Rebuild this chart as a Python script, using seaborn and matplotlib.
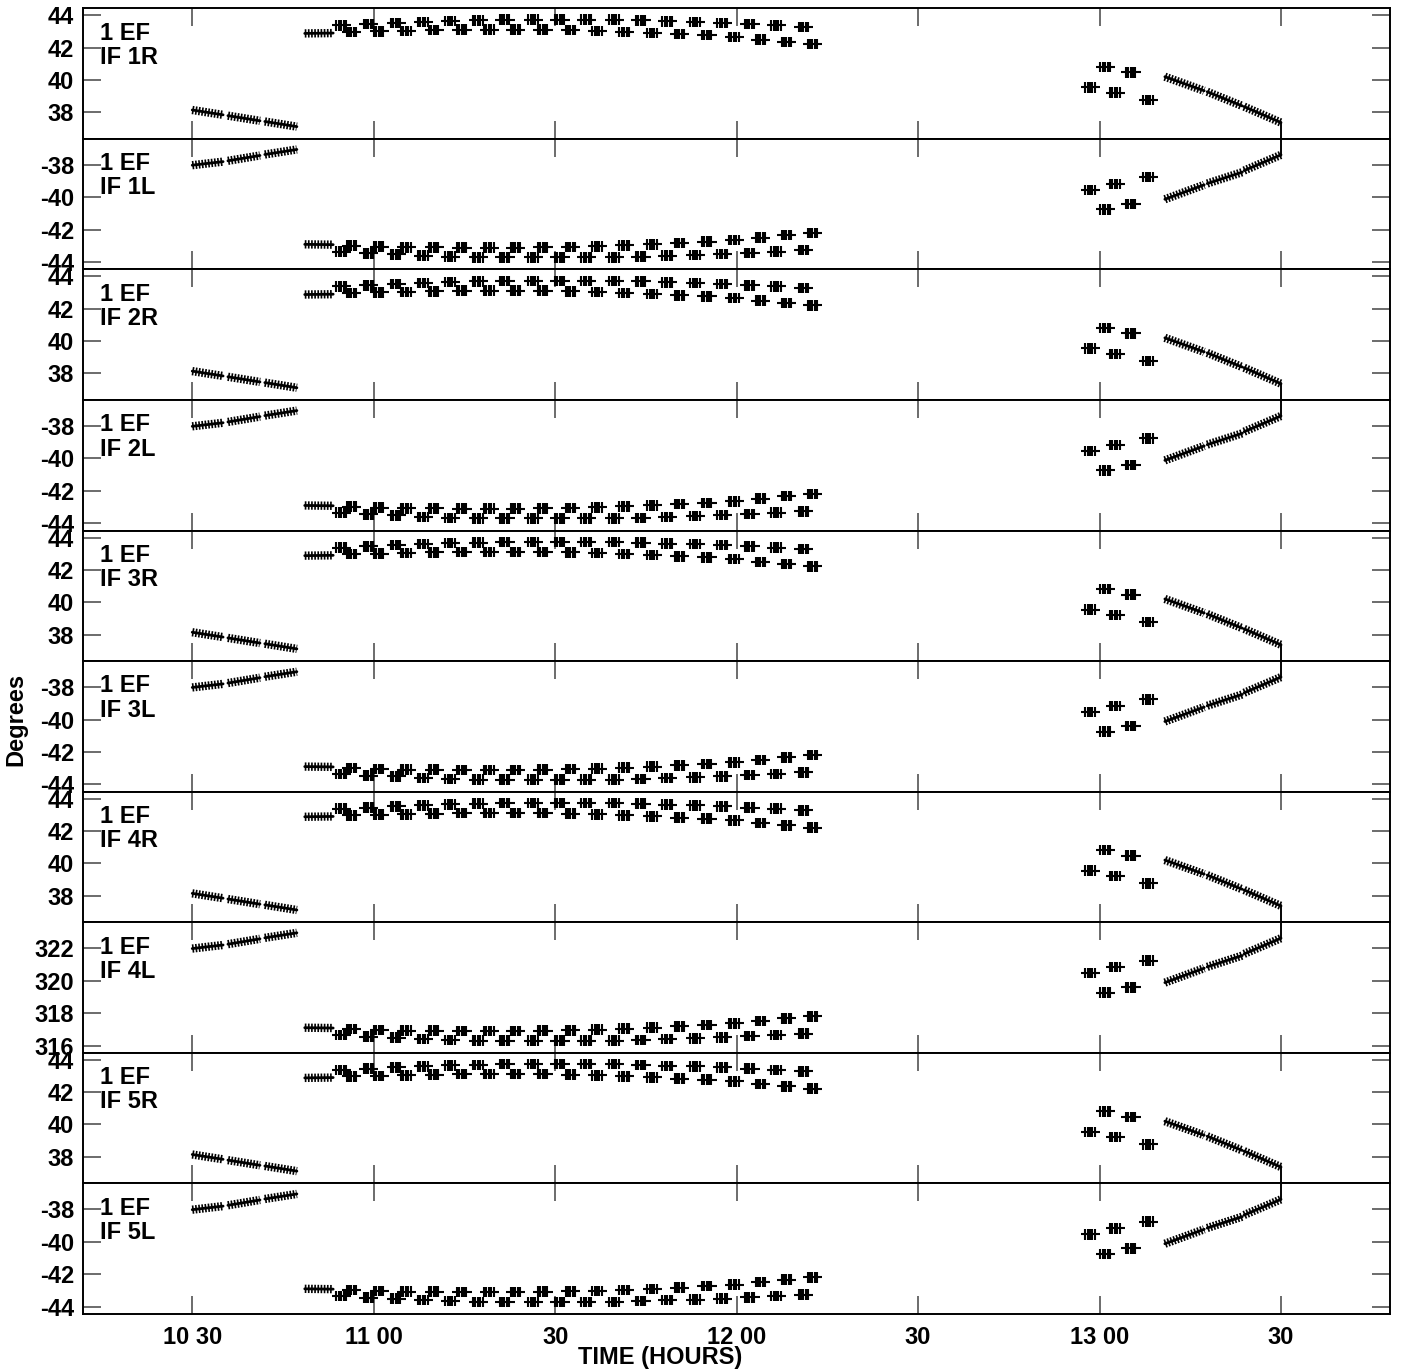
import numpy as np
import matplotlib
matplotlib.use("Agg")
import matplotlib.pyplot as plt
from matplotlib.path import Path
import seaborn as sns

# time axis is minutes after 10:00
XTICKS = [30, 60, 90, 120, 150, 180, 210]
XTICK_LABELS = ["10 30", "11 00", "30", "12 00", "30", "13 00", "30"]

# long continuous scans: start/end time and start/end phase
SCAN_T0 = [30.0, 35.9, 42.0, 48.6, 190.8, 197.8, 203.9]
SCAN_T1 = [35.1, 41.2, 47.3, 53.3, 197.3, 203.6, 210.0]
R_SCAN_V0 = [38.14, 37.79, 37.43, 42.88, 40.20, 39.27, 38.35]
R_SCAN_V1 = [37.84, 37.47, 37.11, 42.90, 39.33, 38.39, 37.36]
L_SCAN_V0 = [-38.02, -37.75, -37.36, -42.90, -40.12, -39.15, -38.35]
L_SCAN_V1 = [-37.80, -37.42, -37.05, -42.92, -39.23, -38.45, -37.38]

# short scans (one cluster of points each)
CLUSTER_T = [54.7, 56.4, 59.2, 60.9, 63.7, 65.4, 68.2, 70.0, 72.7, 74.6,
             77.3, 79.1, 81.7, 83.5, 86.4, 88.0, 90.8, 92.6, 95.2, 97.0,
             99.8, 101.5, 104.2, 106.1, 108.6, 110.6, 113.2, 115.1, 117.7, 119.6,
             122.2, 124.0, 126.6, 128.3, 131.1, 132.6,
             178.5, 181.0, 182.6, 185.2, 188.1]
R_CLUSTER_V = [43.38, 42.97, 43.45, 43.01, 43.53, 43.03, 43.59, 43.08, 43.65, 43.12,
               43.69, 43.12, 43.73, 43.12, 43.73, 43.12, 43.73, 43.08, 43.73, 43.03,
               43.73, 42.97, 43.69, 42.91, 43.63, 42.83, 43.59, 42.77, 43.53, 42.66,
               43.45, 42.50, 43.38, 42.35, 43.28, 42.21,
               39.54, 40.81, 39.21, 40.47, 38.76]
L_CLUSTER_V = [-43.35, -42.98, -43.45, -43.04, -43.51, -43.08, -43.60, -43.08, -43.66, -43.10,
               -43.70, -43.10, -43.70, -43.10, -43.70, -43.08, -43.70, -43.06, -43.70, -43.02,
               -43.70, -42.96, -43.66, -42.90, -43.60, -42.82, -43.56, -42.74, -43.50, -42.64,
               -43.42, -42.48, -43.35, -42.33, -43.26, -42.20,
               -39.54, -40.74, -39.17, -40.41, -38.76]

# panels top to bottom: (IF label, polarisation, phase wrap)
PANELS = [("IF 1R", "R", 0), ("IF 1L", "L", 0),
          ("IF 2R", "R", 0), ("IF 2L", "L", 0),
          ("IF 3R", "R", 0), ("IF 3L", "L", 0),
          ("IF 4R", "R", 0), ("IF 4L", "L", 360),
          ("IF 5R", "R", 0), ("IF 5L", "L", 0)]
R_TICKS = [38, 40, 42, 44]
L_TICKS = [-44, -42, -40, -38]
R_LIM = (36.35, 44.43)
L_LIM = (-44.45, -36.40)

FS = 17

sns.set_theme(style="white")
plt.rcParams["font.family"] = ["Liberation Sans", "DejaVu Sans"]
plt.rcParams["font.weight"] = "bold"
plt.rcParams["text.color"] = "black"
plt.rcParams["xtick.labelcolor"] = "black"
plt.rcParams["ytick.labelcolor"] = "black"

# marker that looks like a short run of overlapping '+' signs
verts = [(-1.0, 0.0), (1.0, 0.0)]
codes = [Path.MOVETO, Path.LINETO]
for xv in (-0.55, -0.3, -0.05, 0.2, 0.45):
    verts += [(xv, -0.55), (xv, 0.55)]
    codes += [Path.MOVETO, Path.LINETO]
cluster_mark = Path(verts, codes)

fig, axes = plt.subplots(len(PANELS), 1, figsize=(14.01, 13.71), dpi=100, sharex=True)
fig.subplots_adjust(left=0.0592, right=0.9922, top=0.9939, bottom=0.0416, hspace=0)

for ax, (iflabel, pol, wrap) in zip(axes, PANELS):
    if pol == "R":
        v0, v1, cv = R_SCAN_V0, R_SCAN_V1, R_CLUSTER_V
        ticks, lim = R_TICKS, R_LIM
    else:
        v0, v1, cv = L_SCAN_V0, L_SCAN_V1, L_CLUSTER_V
        ticks, lim = L_TICKS, L_LIM
    v0 = np.array(v0) + wrap
    v1 = np.array(v1) + wrap
    cv = np.array(cv) + wrap
    ticks = np.array(ticks) + wrap
    lim = (lim[0] + wrap, lim[1] + wrap)

    for t0, t1, a, b in zip(SCAN_T0, SCAN_T1, v0, v1):
        sns.lineplot(x=[t0, t1], y=[a, b], ax=ax, color="black", lw=2.0)
        sns.lineplot(x=[t0, t1], y=[a, b], ax=ax, color="black", lw=6.0,
                     linestyle=(0, (0.2, 0.18)))

    sns.scatterplot(x=CLUSTER_T, y=cv, ax=ax, marker=cluster_mark, s=190,
                    facecolor="none", edgecolor="black", linewidth=1.5, legend=False)

    # connector at the end of the last scan down/up to the panel edge
    edge = lim[0] if pol == "R" else lim[1]
    ax.plot([SCAN_T1[-1], SCAN_T1[-1]], [v1[-1], edge], color="black", lw=1.3)

    ax.set_ylim(*lim)
    ax.set_yticks(ticks)
    ax.set_yticklabels([str(int(t)) for t in ticks])
    ax.set_xlim(11.93, 228.03)
    ax.set_xticks(XTICKS)
    ax.set_ylabel("")
    ax.tick_params(axis="both", direction="in", length=13, width=1.1, color="#444444",
                   top=True, bottom=True, left=True, right=True,
                   labelsize=FS, pad=6.5, labelcolor="black")
    for lbl in ax.get_yticklabels():
        lbl.set_fontweight("bold")
    for s in ax.spines.values():
        s.set_color("black")
        s.set_linewidth(1.4)

    ax.text(0.013, 0.81, "1 EF", transform=ax.transAxes, fontsize=FS,
            fontweight="bold", va="center", ha="left", color="black")
    ax.text(0.013, 0.625, iflabel, transform=ax.transAxes, fontsize=FS,
            fontweight="bold", va="center", ha="left", color="black")

axes[-1].set_xticklabels(XTICK_LABELS, fontweight="bold")
axes[-1].tick_params(axis="x", labelbottom=True, pad=9)

fig.text(0.471, 0.0095, "TIME (HOURS)", ha="center", va="center",
         fontsize=FS, fontweight="bold", color="black")
fig.text(0.0115, 0.4756, "Degrees", ha="center", va="center", rotation=90,
         fontsize=FS, fontweight="bold", color="black")

fig.savefig("out.png", dpi=100)
